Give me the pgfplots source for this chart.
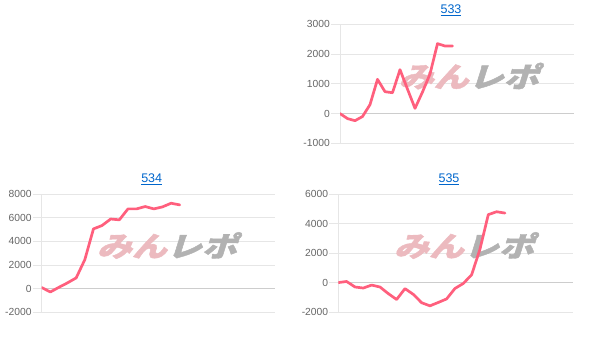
\documentclass[border=0pt]{standalone}
\usepackage{fontspec}
\setmainfont{Liberation Sans}
\newfontfamily\cjk[FakeSlant=0.25, BoldFeatures={FakeBold=1.5}]{Noto Sans CJK JP}
\usepackage{graphicx}
\usepackage{pgfplots}
\pgfplotsset{compat=1.18}
\definecolor{lineC}{RGB}{255,95,125}
\definecolor{gridC}{RGB}{230,230,230}
\definecolor{zeroC}{RGB}{205,205,205}
\definecolor{tickC}{RGB}{102,102,102}
\definecolor{titleC}{RGB}{0,102,204}
\definecolor{wmPink}{RGB}{236,186,191}
\definecolor{wmGray}{RGB}{178,178,178}
\pgfplotsset{
  mini/.style={
    scale only axis,
    anchor=south west,
    axis lines*=left,
    axis line style={draw=gridC, line width=0.8pt},
    xtick=\empty,
    ymajorgrids,
    major grid style={draw=gridC, line width=0.8pt},
    tick align=outside,
    major tick length=9pt,
    ytick style={draw=gridC, line width=0.8pt},
    yticklabel style={font=\fontsize{10.3}{12}\selectfont, text=tickC, inner sep=0pt, xshift=-1pt},
    extra y ticks={0},
    extra y tick labels={},
    extra y tick style={major grid style={draw=zeroC, line width=0.9pt}, major tick length=0pt},
    xmin=0,
  },
}
\newcommand{\wmark}{\scalebox{1.25}[1]{\cjk\bfseries\fontsize{28}{28}\selectfont\textcolor{wmPink}{みん}\textcolor{wmGray}{レポ}}}
\begin{document}
\begin{tikzpicture}
\useasboundingbox (0,0) rectangle (599pt,341pt);

% ---------- 533 ----------
\begin{axis}[mini, at={(340pt,197.7pt)}, width=234pt, height=119pt,
  xmax=31.2, ymin=-1000, ymax=3000,
  ytick={-1000,0,1000,2000,3000}, yticklabels={-1000,0,1000,2000,3000}]
\node[inner sep=0pt] at (rel axis cs:0.55,0.565) {\wmark};
\addplot[lineC, line width=2.7pt, line join=round, line cap=round, mark=none] coordinates {
(0,0) (1,-170) (2,-240) (3,-100) (4,300) (5,1150) (6,735) (7,700) (8,1475) (9,820)
(10,175) (11,725) (12,1330) (13,2350) (14,2270) (15,2270)};
\end{axis}

% ---------- 534 ----------
\begin{axis}[mini, at={(41.7pt,29pt)}, width=233.6pt, height=117.7pt,
  xmax=27.08, ymin=-2000, ymax=8000,
  ytick={-2000,0,2000,4000,6000,8000}, yticklabels={-2000,0,2000,4000,6000,8000}]
\node[inner sep=0pt] at (rel axis cs:0.536,0.565) {\wmark};
\addplot[lineC, line width=2.7pt, line join=round, line cap=round, mark=none] coordinates {
(0,80) (1,-300) (2,100) (3,480) (4,900) (5,2450) (6,5060) (7,5350) (8,5900) (9,5830)
(10,6760) (11,6760) (12,6960) (13,6760) (14,6930) (15,7240) (16,7100)};
\end{axis}

% ---------- 535 ----------
\begin{axis}[mini, at={(338.3pt,29pt)}, width=234.4pt, height=117.7pt,
  xmax=28.13, ymin=-2000, ymax=6000,
  ytick={-2000,0,2000,4000,6000}, yticklabels={-2000,0,2000,4000,6000}]
\node[inner sep=0pt] at (rel axis cs:0.536,0.565) {\wmark};
\addplot[lineC, line width=2.7pt, line join=round, line cap=round, mark=none] coordinates {
(0,0) (1,75) (2,-300) (3,-370) (4,-170) (5,-300) (6,-750) (7,-1150) (8,-410) (9,-800)
(10,-1370) (11,-1580) (12,-1350) (13,-1110) (14,-400) (15,-60) (16,530) (17,2270)
(18,4620) (19,4815) (20,4725)};
\end{axis}

% titles
\node[anchor=base, text=titleC, font=\fontsize{12.5}{14}\selectfont, inner sep=0pt] at (451pt,327.5pt) {\underline{533}};
\node[anchor=base, text=titleC, font=\fontsize{12.5}{14}\selectfont, inner sep=0pt] at (151.7pt,158.8pt) {\underline{534}};
\node[anchor=base, text=titleC, font=\fontsize{12.5}{14}\selectfont, inner sep=0pt] at (449pt,158.8pt) {\underline{535}};
\end{tikzpicture}
\end{document}
